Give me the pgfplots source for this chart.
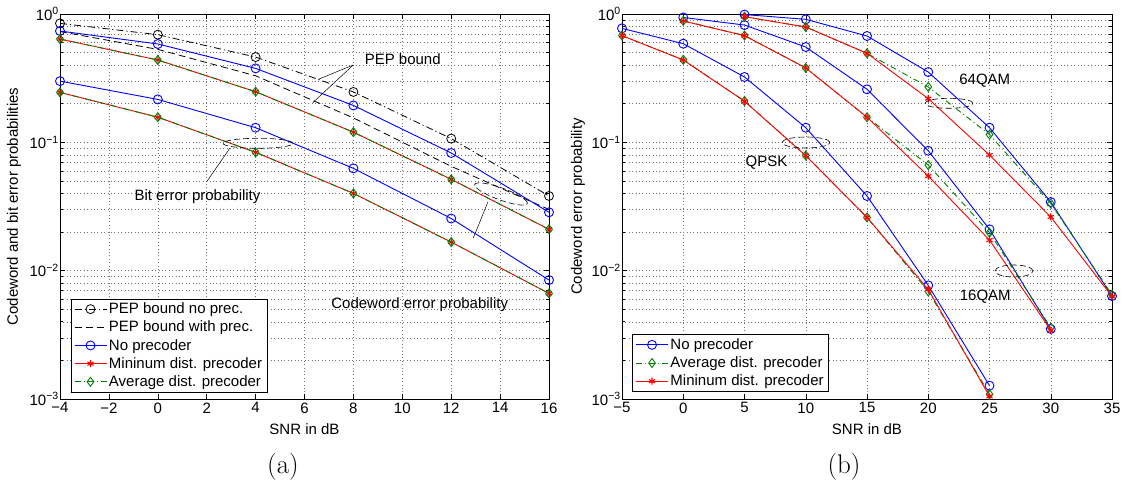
\documentclass[border=0pt]{standalone}
\usepackage{fontspec}
\setsansfont{Liberation Sans}
\usepackage{pgfplots}
\pgfplotsset{compat=1.18}
\definecolor{mgreen}{rgb}{0,0.5,0}
\newcommand{\tf}{\fontsize{15}{17}\selectfont\sffamily}
\pgfplotsset{
  sblu/.style={blue, line width=0.9pt, mark=o, mark size=4.5pt, mark options={solid}},
  sred/.style={red, line width=0.9pt, mark=asterisk, mark size=3.5pt, mark options={solid,line width=1.1pt}},
  sgrn/.style={mgreen, line width=0.9pt, dash pattern=on 6pt off 3pt on 1pt off 3pt, mark=diamond, mark size=4.5pt, mark options={solid}},
}
\begin{document}
\begin{tikzpicture}
% ---------------- (a) ----------------
\begin{axis}[scale only axis, ymode=log, ymin=1e-3, ymax=1,
    grid=both,
    major grid style={black!55,line width=0.45pt,dash pattern=on 0.8pt off 2.6pt},
    minor grid style={black!55,line width=0.45pt,dash pattern=on 0.8pt off 2.6pt},
    tick align=inside, xtick pos=both, ytick pos=both,
    major tick length=5pt, minor tick length=3pt,
    axis line style={line width=0.7pt},
    tick style={black,line width=0.5pt},
    ticklabel style={font=\tf},
    label style={font=\tf},
    yticklabel style={inner xsep=1pt},
    ytick={0.001,0.01,0.1,1},
    yticklabels={10\textsuperscript{−3},10\textsuperscript{−2},10\textsuperscript{−1},10\textsuperscript{0}},
    minor ytick={2e-3,3e-3,4e-3,5e-3,6e-3,7e-3,8e-3,9e-3,2e-2,3e-2,4e-2,5e-2,6e-2,7e-2,8e-2,9e-2,2e-1,3e-1,4e-1,5e-1,6e-1,7e-1,8e-1,9e-1},
    clip mode=individual,
    legend cell align=left,
    legend style={font=\tf, draw=black, line width=0.6pt, fill=white, row sep=1.8pt, inner xsep=3pt, inner ysep=2pt},
    legend image code/.code={\draw[mark repeat=2,mark phase=2,#1] plot coordinates {(0pt,0pt)(16pt,0pt)(32pt,0pt)};},
  at={(60pt,90pt)}, anchor=south west, width=489pt, height=385pt,
  xmin=-4, xmax=16, xtick={-4,-2,0,2,4,6,8,10,12,14,16},
  xticklabels={−4,−2,0,2,4,6,8,10,12,14,16},
  xlabel={SNR in dB}, ylabel={Codeword and bit error probabilities},
  xlabel style={at={(axis description cs:0.5,-0.078)},anchor=center},
  ylabel style={at={(axis description cs:-0.094,0.5)},anchor=center},
  legend style={at={(axis description cs:0.022,0.0174)},anchor=south west}]
\addplot[black, line width=0.8pt, dash pattern=on 7pt off 3pt on 1.2pt off 3pt, mark=o, mark size=4.5pt, mark options={solid}]
  coordinates {(-4,0.845)(0,0.69)(4,0.462)(8,0.247)(12,0.107)(16,0.0382)};
\addlegendentry{PEP bound no prec.}
\addplot[black, line width=0.8pt, dash pattern=on 7pt off 4pt]
  coordinates {(-4,0.73)(0,0.53)(4,0.33)(8,0.155)(12,0.065)(16,0.030)};
\addlegendentry{PEP bound with prec.}
\addplot[sblu] coordinates {(-4,0.737)(0,0.584)(4,0.377)(8,0.194)(12,0.0826)(16,0.0285)};
\addlegendentry{No precoder}
\addplot[sred] coordinates {(-4,0.638)(0,0.438)(4,0.248)(8,0.120)(12,0.0515)(16,0.021)};
\addlegendentry{Mininum dist. precoder}
\addplot[sgrn] coordinates {(-4,0.638)(0,0.438)(4,0.248)(8,0.120)(12,0.0515)(16,0.021)};
\addlegendentry{Average dist. precoder}
\addplot[sblu, forget plot] coordinates {(-4,0.30)(0,0.216)(4,0.130)(8,0.0627)(12,0.0255)(16,0.00845)};
\addplot[sred, forget plot] coordinates {(-4,0.245)(0,0.157)(4,0.0836)(8,0.040)(12,0.0167)(16,0.00665)};
\addplot[sgrn, forget plot] coordinates {(-4,0.245)(0,0.157)(4,0.0836)(8,0.040)(12,0.0167)(16,0.00665)};
\end{axis}
% ---------------- (b) ----------------
\begin{axis}[scale only axis, ymode=log, ymin=1e-3, ymax=1,
    grid=both,
    major grid style={black!55,line width=0.45pt,dash pattern=on 0.8pt off 2.6pt},
    minor grid style={black!55,line width=0.45pt,dash pattern=on 0.8pt off 2.6pt},
    tick align=inside, xtick pos=both, ytick pos=both,
    major tick length=5pt, minor tick length=3pt,
    axis line style={line width=0.7pt},
    tick style={black,line width=0.5pt},
    ticklabel style={font=\tf},
    label style={font=\tf},
    yticklabel style={inner xsep=1pt},
    ytick={0.001,0.01,0.1,1},
    yticklabels={10\textsuperscript{−3},10\textsuperscript{−2},10\textsuperscript{−1},10\textsuperscript{0}},
    minor ytick={2e-3,3e-3,4e-3,5e-3,6e-3,7e-3,8e-3,9e-3,2e-2,3e-2,4e-2,5e-2,6e-2,7e-2,8e-2,9e-2,2e-1,3e-1,4e-1,5e-1,6e-1,7e-1,8e-1,9e-1},
    clip mode=individual,
    legend cell align=left,
    legend style={font=\tf, draw=black, line width=0.6pt, fill=white, row sep=1.8pt, inner xsep=3pt, inner ysep=2pt},
    legend image code/.code={\draw[mark repeat=2,mark phase=2,#1] plot coordinates {(0pt,0pt)(16pt,0pt)(32pt,0pt)};},
  at={(622pt,90pt)}, anchor=south west, width=490pt, height=385pt,
  xmin=-5, xmax=35, xtick={-5,0,5,10,15,20,25,30,35},
  xticklabels={−5,0,5,10,15,20,25,30,35},
  xlabel={SNR in dB}, ylabel={Codeword error probability},
  xlabel style={at={(axis description cs:0.5,-0.078)},anchor=center},
  ylabel style={at={(axis description cs:-0.09,0.5)},anchor=center},
  legend style={at={(axis description cs:0.021,0.019)},anchor=south west}]
\addplot[sblu] coordinates {(-5,0.773)(0,0.587)(5,0.323)(10,0.130)(15,0.0382)(20,0.00768)(25,0.00127)};
\addlegendentry{No precoder}
\addplot[sgrn] coordinates {(-5,0.68)(0,0.44)(5,0.21)(10,0.079)(15,0.026)(20,0.0069)(25,0.00109)};
\addlegendentry{Average dist. precoder}
\addplot[sred] coordinates {(-5,0.678)(0,0.438)(5,0.209)(10,0.0787)(15,0.026)(20,0.00714)(25,0.00105)};
\addlegendentry{Mininum dist. precoder}
\addplot[sblu, forget plot] coordinates {(0,0.94)(5,0.82)(10,0.553)(15,0.259)(20,0.086)(25,0.021)(30,0.00351)};
\addplot[sgrn, forget plot] coordinates {(0,0.885)(5,0.68)(10,0.38)(15,0.157)(20,0.0665)(25,0.0198)(30,0.0036)};
\addplot[sred, forget plot] coordinates {(0,0.882)(5,0.678)(10,0.38)(15,0.157)(20,0.0546)(25,0.0173)(30,0.00344)};
\addplot[sblu, forget plot] coordinates {(5,0.99)(10,0.909)(15,0.674)(20,0.353)(25,0.130)(30,0.0343)(35,0.00634)};
\addplot[sgrn, forget plot] coordinates {(5,0.953)(10,0.792)(15,0.494)(20,0.27)(25,0.115)(30,0.0334)(35,0.0065)};
\addplot[sred, forget plot] coordinates {(5,0.953)(10,0.792)(15,0.494)(20,0.219)(25,0.0796)(30,0.0262)(35,0.0063)};
\end{axis}
% ---------------- annotations ----------------
\begin{scope}[x=1pt,y=1pt]
\node[font=\tf] at (402.7,430) {PEP bound};
\draw[line width=0.5pt] (353.3,424) -- (318.3,409.7);
\draw[line width=0.5pt] (353.3,424) -- (312.7,386.3);
\draw[line width=0.6pt,dash pattern=on 6pt off 3pt] (258,345.7) ellipse [x radius=35, y radius=5];
\draw[line width=0.5pt] (230,341) -- (206.7,307.3);
\node[font=\tf] at (197.5,292.3) {Bit error probability};
\draw[line width=0.6pt,dash pattern=on 6pt off 3pt,rotate around={-20:(501,295)}] (501,295) ellipse [x radius=28, y radius=6];
\draw[line width=0.5pt] (488,287.3) -- (473.3,251);
\node[font=\tf] at (419.7,184) {Codeword error probability};
\node[font=\tf] at (984.8,408) {64QAM};
\draw[line width=0.6pt,dash pattern=on 6pt off 3pt] (949,385.7) ellipse [x radius=24, y radius=5];
\node[font=\tf] at (766.5,326.3) {QPSK};
\draw[line width=0.6pt,dash pattern=on 6pt off 3pt] (806,346.5) ellipse [x radius=24, y radius=5.5];
\node[font=\tf] at (985.3,192.3) {16QAM};
\draw[line width=0.6pt,dash pattern=on 6pt off 3pt] (1014,218) ellipse [x radius=19, y radius=6];
\node[font=\rmfamily\fontsize{27}{30}\selectfont] at (283,22) {(a)};
\node[font=\rmfamily\fontsize{27}{30}\selectfont] at (844,22) {(b)};
\end{scope}
\pgfresetboundingbox
\path (0pt,0pt) rectangle (1124pt,489pt);
\end{tikzpicture}
\end{document}
